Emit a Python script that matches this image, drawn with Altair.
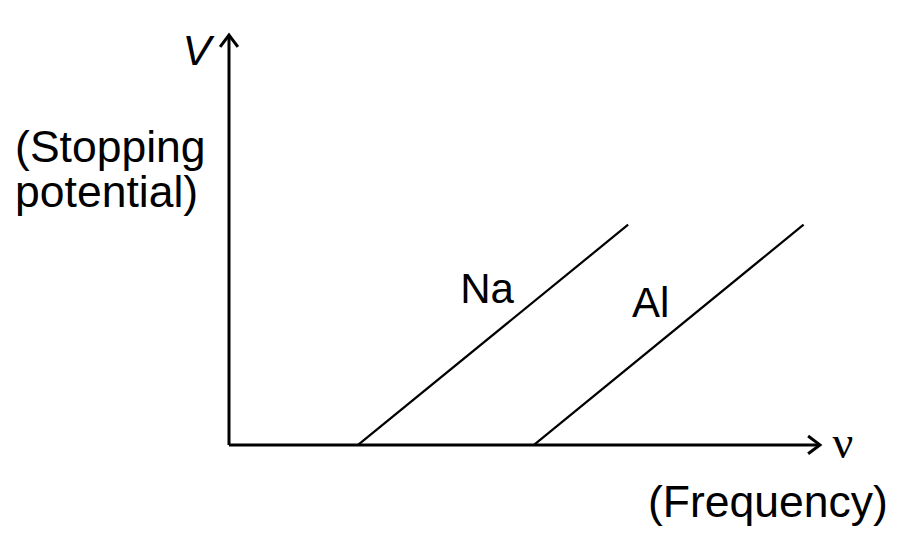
import altair as alt
import pandas as pd

# Stopping potential vs frequency (arbitrary units)
metals = ["Na", "Al"]
threshold_freq = [2.92, 6.90]     # where V = 0
end_freq = [9.03, 13.00]          # upper end of each line
end_potential = [5.04, 5.04]

# axis extents
x_axis_end = 13.37
y_axis_end = 9.38

lines = pd.DataFrame({
    "metal": metals * 2,
    "nu": threshold_freq + end_freq,
    "V": [0.0, 0.0] + end_potential,
})

X = alt.Scale(domain=[-5, 15], nice=False, zero=False)
Y = alt.Scale(domain=[-2.36, 10], nice=False, zero=False)

def xe(f="x"):
    return alt.X(f"{f}:Q", scale=X, axis=None)

def ye(f="y"):
    return alt.Y(f"{f}:Q", scale=Y, axis=None)

base = alt.Chart(lines)

metal_lines = base.mark_line(color="black", strokeWidth=2.2).encode(
    x=alt.X("nu:Q", scale=X, axis=None),
    y=alt.Y("V:Q", scale=Y, axis=None),
    detail="metal:N",
)

axes_df = pd.DataFrame({
    "x": [0.0, 0.0], "y": [0.0, 0.0],
    "x2": [x_axis_end, 0.0], "y2": [0.0, y_axis_end],
})
axes = alt.Chart(axes_df).mark_rule(color="black", strokeWidth=3).encode(
    x=xe("x"), y=ye("y"), x2="x2:Q", y2="y2:Q"
)

up_arrow = alt.Chart(pd.DataFrame({"x": [0.0], "y": [y_axis_end]})).mark_point(
    shape="M -0.75 1 L 0 0 L 0.75 1", filled=False, color="black",
    strokeWidth=3, size=560, opacity=1
).encode(x=xe(), y=ye())

right_arrow = alt.Chart(pd.DataFrame({"x": [x_axis_end], "y": [0.0]})).mark_point(
    shape="M -1 -0.75 L 0 0 L -1 0.75", filled=False, color="black",
    strokeWidth=3, size=560, opacity=1
).encode(x=xe(), y=ye())

metal_labels = alt.Chart(pd.DataFrame({
    "x": [5.23, 9.12],
    "y": [3.25, 2.93],
    "t": ["Na", "Al"],
})).mark_text(
    align="left", baseline="alphabetic", font="Liberation Sans",
    fontSize=42, color="black"
).encode(x=xe(), y=ye(), text="t:N")

axis_titles = alt.Chart(pd.DataFrame({
    "x": [-4.84, -4.84, 9.48],
    "y": [6.48, 5.45, -1.65],
    "t": ["(Stopping", "potential)", "(Frequency)"],
})).mark_text(
    align="left", baseline="alphabetic", font="Liberation Sans",
    fontSize=44.5, color="black"
).encode(x=xe(), y=ye(), text="t:N")

v_label = alt.Chart(pd.DataFrame({"x": [-1.05], "y": [8.70], "t": ["V"]})).mark_text(
    align="left", baseline="alphabetic", font="Liberation Sans",
    fontSize=43, fontStyle="italic", color="black"
).encode(x=xe(), y=ye(), text="t:N")

nu_label = alt.Chart(pd.DataFrame({"x": [13.89], "y": [0.02], "t": ["ν"]})).mark_text(
    align="center", baseline="middle", font="Liberation Serif",
    fontSize=46, color="black"
).encode(x=xe(), y=ye(), text="t:N")

chart = alt.layer(
    axes, metal_lines, up_arrow, right_arrow, metal_labels, axis_titles,
    v_label, nu_label
).properties(
    width=884, height=540, autosize="none", padding=0, background="white"
).configure_view(strokeWidth=0)

chart.save("out.html", embed_options={"renderer": "svg", "actions": False})
